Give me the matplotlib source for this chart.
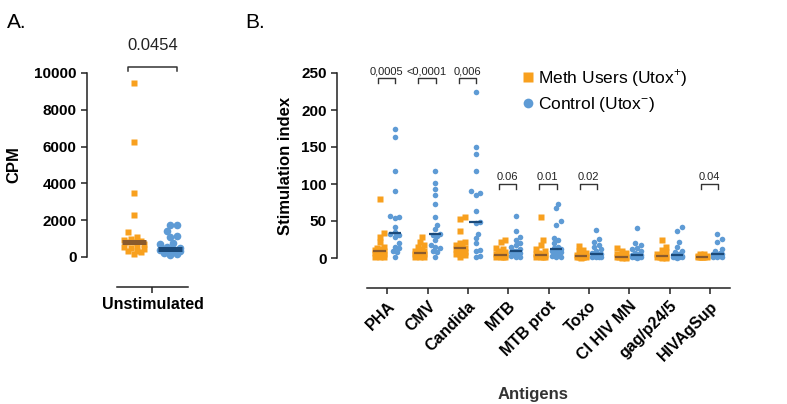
import numpy as np
import matplotlib
matplotlib.use("Agg")
import matplotlib.pyplot as plt
from matplotlib.lines import Line2D

plt.rcParams['font.family'] = ['Liberation Sans', 'DejaVu Sans']
plt.rcParams['mathtext.fontset'] = 'custom'
plt.rcParams['mathtext.rm'] = 'Liberation Sans'

# panel A: unstimulated CPM
cpm_meth = [9450, 6250, 3500, 2300, 1340, 1100, 1000, 950, 850, 830,
            820, 700, 600, 550, 500, 450, 350, 300, 250, 150]
cpm_ctrl = [1750, 1740, 1420, 1160, 1080, 760, 680, 560, 500, 440,
            420, 410, 400, 380, 350, 300, 250, 200, 150, 120]
pval_a = "0.0454"

# panel B: stimulation index by antigen
antigens = ["PHA", "CMV", "Candida", "MTB", "MTB prot", "Toxo",
            "CI HIV MN", "gag/p24/5", "HIVAgSup"]
si_meth = [
    [80, 34, 29, 22, 15, 13, 12, 11, 10, 10, 9, 8, 7, 6, 5, 4, 3, 2, 2, 1],
    [28, 22, 18, 15, 12, 10, 9, 8, 7, 7, 6, 5, 4, 3, 3, 2, 1, 1],
    [55, 53, 36, 22, 20, 18, 16, 15, 14, 13, 12, 10, 9, 8, 6, 5, 4, 2],
    [24, 22, 13, 12, 10, 8, 6, 5, 4, 4, 3, 3, 2, 2, 1, 1],
    [56, 24, 18, 12, 9, 7, 6, 5, 4, 4, 3, 3, 2, 2, 1, 1],
    [16, 11, 9, 7, 5, 4, 3, 2, 2, 2, 1, 1, 1, 0.5],
    [13, 9, 7, 5, 4, 3, 2, 2, 1, 1, 1, 0.5, 0.5],
    [25, 15, 11, 8, 5, 4, 3, 2, 2, 1, 1, 1, 0.5, 0.5],
    [6, 5, 4, 3, 3, 2, 2, 2, 1, 1, 1],
]
si_ctrl = [
    [175, 163, 117, 90, 57, 55, 54, 42, 35, 33, 31, 28, 20, 15, 13, 10, 8, 2],
    [117, 101, 93, 85, 73, 56, 45, 39, 33, 31, 30, 24, 18, 15, 13, 10, 8, 2],
    [224, 150, 140, 117, 90, 88, 85, 63, 48, 47, 33, 27, 20, 11, 9, 3, 1],
    [57, 36, 28, 25, 20, 18, 15, 12, 10, 10, 9, 8, 7, 5, 4, 3, 2, 1],
    [73, 67, 50, 45, 27, 25, 20, 15, 13, 12, 11, 10, 8, 6, 5, 3, 2, 1],
    [38, 26, 22, 18, 15, 12, 9, 7, 5, 5, 4, 3, 2, 2, 1, 1],
    [41, 20, 17, 14, 12, 9, 7, 5, 4, 4, 3, 2, 2, 1, 1, 0.5],
    [42, 37, 21, 15, 10, 8, 6, 4, 3, 3, 2, 2, 1, 1, 0.5],
    [32, 26, 22, 12, 9, 7, 6, 5, 4, 4, 3, 2, 2, 1],
]
pvals_b = {0: "0,0005", 1: "<0,0001", 2: "0,006", 3: "0.06",
           4: "0.01", 5: "0.02", 8: "0.04"}
high_brackets = [0, 1, 2]

orange = "#F8A01E"
blue = "#5E9BD5"
orange_med = "#8A5A2C"
blue_med = "#1B4A7A"


def swarm(ax, center, vals, size_px, max_px):
    # column scatter: nudge points sideways, allowing some overlap, within max_px
    vals = np.asarray(vals, dtype=float)
    pts = ax.transData.transform(np.column_stack([np.full(len(vals), center), vals]))
    placed = []
    xs = np.zeros(len(vals))
    step = size_px * 0.5
    for i in np.argsort(vals):
        px, py = pts[i]
        best, best_d = px, -1
        k = 0
        while True:
            off = ((k + 1) // 2) * step * (1 if k % 2 else -1)
            if abs(off) > max_px:
                break
            cand = px + off
            d = min([np.hypot(cand - qx, py - qy) for qx, qy in placed] or [1e9])
            if d >= size_px:
                best = cand
                break
            if d > best_d:
                best, best_d = cand, d
            k += 1
        placed.append((best, py))
        xs[i] = best
    back = ax.transData.inverted().transform(np.column_stack([xs, pts[:, 1]]))
    return back[:, 0]


def style_axes(ax):
    for s in ['top', 'right']:
        ax.spines[s].set_visible(False)
    for s in ['left', 'bottom']:
        ax.spines[s].set_linewidth(1.1)
        ax.spines[s].set_color('#222222')
    ax.spines['bottom'].set_position(('outward', 21.6))
    ax.tick_params(width=1.1, length=4, color='#222222')


fig = plt.figure(figsize=(7.87, 4.04), dpi=100)

# ---- panel A ----
axA = fig.add_axes([87 / 787, 1 - 257 / 404, 101 / 787, 184 / 404])
style_axes(axA)
axA.set_xlim(-0.9225, 0.5)
axA.set_ylim(0, 10000)
axA.spines['bottom'].set_bounds(-0.5, 0.5)
axA.spines['left'].set_bounds(0, 10000)
axA.set_yticks(range(0, 10001, 2000))
axA.set_yticklabels([str(v) for v in range(0, 10001, 2000)], fontweight='bold', fontsize=11)
axA.set_xticks([0])
axA.set_xticklabels(["Unstimulated"], fontweight='bold', fontsize=11.5)
axA.set_ylabel("CPM", fontweight='bold', fontsize=12, labelpad=9)

xa = swarm(axA, -0.26, cpm_meth, 6.5, 12)
axA.plot(xa, cpm_meth, 's', color=orange, ms=5, mec='none', clip_on=False)
xb = swarm(axA, 0.25, cpm_ctrl, 6.5, 12)
axA.plot(xb, cpm_ctrl, 'o', color=blue, ms=5.5, mec='none', clip_on=False)
axA.hlines(np.median(cpm_meth), -0.26 - 0.17, -0.26 + 0.17, color=orange_med, lw=3.6, zorder=5)
axA.hlines(np.median(cpm_ctrl), 0.25 - 0.17, 0.25 + 0.17, color=blue_med, lw=3.6, zorder=5)

axA.plot([-0.345, -0.345, 0.345, 0.345], [10090, 10330, 10330, 10090],
         color='#333333', lw=1.1, clip_on=False)
axA.text(0, 11470, pval_a, ha='center', va='center', fontsize=12, color='#222222')

# ---- panel B ----
axB = fig.add_axes([337 / 787, 1 - 258 / 404, 393 / 787, 185 / 404])
style_axes(axB)
axB.set_xlim(-1.244, 8.5)
axB.set_ylim(0, 250)
axB.spines['bottom'].set_bounds(-0.5, 8.5)
axB.spines['left'].set_bounds(0, 250)
axB.set_yticks(range(0, 251, 50))
axB.set_yticklabels([str(v) for v in range(0, 251, 50)], fontweight='bold', fontsize=11)
xpos = np.arange(len(antigens))
axB.set_xticks(xpos)
axB.set_xticklabels(antigens, rotation=45, ha='right', rotation_mode='anchor',
                    fontweight='bold', fontsize=11.5)
axB.set_ylabel("Stimulation index", fontweight='bold', fontsize=12, labelpad=6)
axB.set_xlabel("Antigens", fontweight='bold', fontsize=12, color='#333333', labelpad=17)

for i in xpos:
    xo = swarm(axB, i - 0.19, si_meth[i], 4.6, 6.5)
    axB.plot(xo, si_meth[i], 's', color=orange, ms=3.7, mec='none', clip_on=False)
    xc = swarm(axB, i + 0.19, si_ctrl[i], 4.6, 6.5)
    axB.plot(xc, si_ctrl[i], 'o', color=blue, ms=4, mec='none', clip_on=False)
    axB.hlines(np.median(si_meth[i]), i - 0.19 - 0.15, i - 0.19 + 0.15,
               color=orange_med, lw=1.6, zorder=5, clip_on=False)
    axB.hlines(np.median(si_ctrl[i]), i + 0.19 - 0.15, i + 0.19 + 0.15,
               color=blue_med, lw=1.6, zorder=5, clip_on=False)

for i, p in pvals_b.items():
    if i in high_brackets:
        top, leg, ty = 243.5, 237, 252
    else:
        top, leg, ty = 99.5, 93, 110
    axB.plot([i - 0.23, i - 0.23, i + 0.2, i + 0.2], [leg, top, top, leg],
             color='#333333', lw=1.0, clip_on=False)
    axB.text(i - 0.02, ty, p, ha='center', va='center', fontsize=8, color='#222222')

# legend
handles = [Line2D([], [], marker='s', ls='none', color=orange, ms=7, mec='none'),
           Line2D([], [], marker='o', ls='none', color=blue, ms=7, mec='none')]
fig.legend(handles, ["Meth Users (Utox$^{+}$)", "Control (Utox$^{-}$)"],
           loc='upper left', bbox_to_anchor=(521 / 787, 1 - 67 / 404), frameon=False,
           fontsize=12.5, handlelength=0.8, handletextpad=0.2, labelspacing=0.35,
           borderaxespad=0, borderpad=0)

fig.text(7 / 787, 1 - 22 / 404, "A.", fontsize=15, va='center', ha='left')
fig.text(245 / 787, 1 - 22 / 404, "B.", fontsize=15, va='center', ha='left')

fig.savefig("out.png", dpi=100)
